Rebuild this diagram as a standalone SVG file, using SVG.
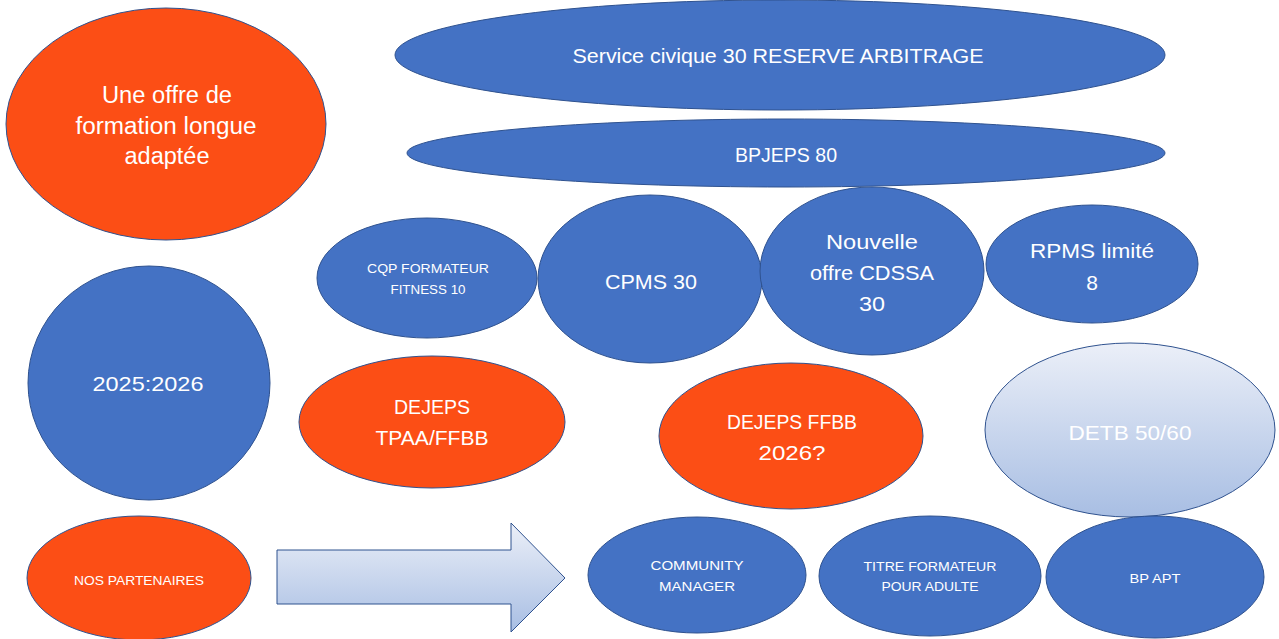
<svg xmlns="http://www.w3.org/2000/svg" width="1279" height="639" viewBox="0 0 1279 639">
<defs>
<linearGradient id="pale" x1="0" y1="0" x2="0" y2="1">
<stop offset="0" stop-color="#EBEFF8"/>
<stop offset="1" stop-color="#A8BEE3"/>
</linearGradient>
<style>
.b{fill:#4472C4;stroke:#2F528F;stroke-width:1}
.o{fill:#FC4E15;stroke:#2F528F;stroke-width:1}
.g{fill:url(#pale);stroke:#2F528F;stroke-width:1}
text{font-family:"Liberation Sans","Open Sans",sans-serif;fill:#FFFFFF;text-anchor:middle;dominant-baseline:central}
.l{font-size:21px}
.x{font-size:23px}
.s{font-size:13px}
</style>
</defs>
<rect width="1279" height="639" fill="#FFFFFF"/>
<g id="offre">
<ellipse class="o" cx="166" cy="124" rx="160" ry="116"/>
<text class="x" x="167" y="95" textLength="130" lengthAdjust="spacingAndGlyphs">Une offre de</text>
<text class="x" x="166" y="126" textLength="181" lengthAdjust="spacingAndGlyphs">formation longue</text>
<text class="x" x="167" y="156" textLength="85" lengthAdjust="spacingAndGlyphs">adaptée</text>
</g>
<g id="service-civique">
<ellipse class="b" cx="780" cy="55" rx="385" ry="55"/>
<text class="l" x="778" y="55" textLength="411" lengthAdjust="spacingAndGlyphs">Service civique 30 RESERVE ARBITRAGE</text>
</g>
<g id="bpjeps">
<ellipse class="b" cx="786" cy="153" rx="379" ry="34"/>
<text class="l" x="786" y="154" textLength="102" lengthAdjust="spacingAndGlyphs">BPJEPS 80</text>
</g>
<g id="cqp">
<ellipse class="b" cx="427" cy="278" rx="110" ry="60"/>
<text class="s" x="428" y="268" textLength="122" lengthAdjust="spacingAndGlyphs">CQP FORMATEUR</text>
<text class="s" x="428" y="289" textLength="75" lengthAdjust="spacingAndGlyphs">FITNESS 10</text>
</g>
<g id="cpms">
<ellipse class="b" cx="650" cy="279" rx="112" ry="84"/>
<text class="l" x="651" y="281" textLength="92" lengthAdjust="spacingAndGlyphs">CPMS 30</text>
</g>
<g id="cdssa">
<ellipse class="b" cx="872" cy="271" rx="112" ry="84"/>
<text class="l" x="872" y="241" textLength="92" lengthAdjust="spacingAndGlyphs">Nouvelle</text>
<text class="l" x="872" y="272" textLength="124" lengthAdjust="spacingAndGlyphs">offre CDSSA</text>
<text class="l" x="872" y="303" textLength="26" lengthAdjust="spacingAndGlyphs">30</text>
</g>
<g id="rpms">
<ellipse class="b" cx="1092" cy="264" rx="106" ry="59"/>
<text class="l" x="1092" y="250" textLength="124" lengthAdjust="spacingAndGlyphs">RPMS limité</text>
<text class="l" x="1092" y="282">8</text>
</g>
<g id="annee">
<ellipse class="b" cx="149" cy="383" rx="121" ry="117"/>
<text class="l" x="148" y="383" textLength="111" lengthAdjust="spacingAndGlyphs">2025:2026</text>
</g>
<g id="dejeps-tpaa">
<ellipse class="o" cx="432" cy="422" rx="133" ry="66"/>
<text class="l" x="432" y="406" textLength="76" lengthAdjust="spacingAndGlyphs">DEJEPS</text>
<text class="l" x="432" y="437" textLength="113" lengthAdjust="spacingAndGlyphs">TPAA/FFBB</text>
</g>
<g id="dejeps-ffbb">
<ellipse class="o" cx="791" cy="436" rx="132" ry="73"/>
<text class="l" x="792" y="421" textLength="130" lengthAdjust="spacingAndGlyphs">DEJEPS FFBB</text>
<text class="l" x="792" y="452" textLength="67" lengthAdjust="spacingAndGlyphs">2026?</text>
</g>
<g id="detb">
<ellipse class="g" cx="1130" cy="430" rx="145" ry="87"/>
<text class="l" x="1130" y="432" textLength="123" lengthAdjust="spacingAndGlyphs">DETB 50/60</text>
</g>
<g id="partenaires">
<ellipse class="o" cx="139" cy="578" rx="112" ry="62"/>
<text class="s" x="139" y="580" textLength="130" lengthAdjust="spacingAndGlyphs">NOS PARTENAIRES</text>
</g>
<g id="connectors">
<path class="g" d="M277,550 H511 V523 L565,578 L511,632 V604 H277 Z"/>
</g>
<g id="community">
<ellipse class="b" cx="697" cy="575" rx="109" ry="58"/>
<text class="s" x="697" y="565" textLength="93" lengthAdjust="spacingAndGlyphs">COMMUNITY</text>
<text class="s" x="697" y="586" textLength="76" lengthAdjust="spacingAndGlyphs">MANAGER</text>
</g>
<g id="titre">
<ellipse class="b" cx="930" cy="576" rx="111" ry="60"/>
<text class="s" x="930" y="566" textLength="133" lengthAdjust="spacingAndGlyphs">TITRE FORMATEUR</text>
<text class="s" x="930" y="586" textLength="97" lengthAdjust="spacingAndGlyphs">POUR ADULTE</text>
</g>
<g id="bp-apt">
<ellipse class="b" cx="1155" cy="577" rx="109" ry="61"/>
<text class="s" x="1155" y="578" textLength="51" lengthAdjust="spacingAndGlyphs">BP APT</text>
</g>
</svg>
